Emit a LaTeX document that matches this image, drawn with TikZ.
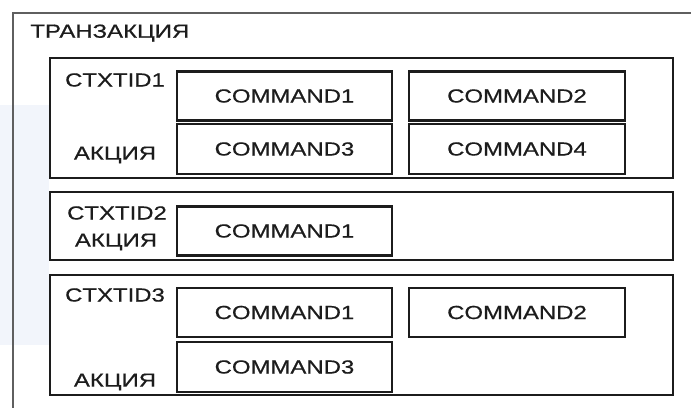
\documentclass[tikz,border=0pt]{standalone}
\usepackage{fontspec}
\setmainfont{Liberation Sans}[FakeStretch=1.26, FakeBold=0.6]
\usepackage{xcolor}
\usepackage{tikz}
\usetikzlibrary{positioning}
\definecolor{inkdark}{RGB}{28, 28, 28}
\definecolor{framegray}{RGB}{95, 95, 95}
\definecolor{scantint}{RGB}{242, 245, 251}

\begin{document}
\begin{tikzpicture}[
  x=0.5pt, y=-0.5pt,
  txbox/.style={rectangle, draw=inkdark, line width=0.8pt, minimum width=311.5pt, inner sep=0pt},
  cmdbox/.style={rectangle, draw=inkdark, line width=1.2pt, minimum width=107.5pt, minimum height=24.5pt, inner sep=0pt, font=\fontsize{9.5}{11}\selectfont, text=inkdark},
  idlabel/.style={inner sep=0pt, font=\fontsize{9.5}{11}\selectfont, text=inkdark}
]
\useasboundingbox (0,0) rectangle (691,408);

% Faint scan tint on the left margin
\fill[scantint] (0,105) rectangle (49,345);

% Outer frame (open to the right and bottom)
\draw[framegray, line width=0.7pt] (691,13) -- (13,13) -- (13,408);
\node[idlabel, anchor=west] (title) at (30,33) {ТРАНЗАКЦИЯ};

% Transaction groups
\node[txbox, minimum height=60pt] (grpone) at (361.5,118) {};
\node[txbox, minimum height=34pt] (grptwo) at (361.5,226) {};
\node[txbox, minimum height=60pt] (grpthree) at (361.5,335) {};

% Group 1
\node[idlabel] (idone) at (115,80) {CTXTID1};
\node[idlabel] (actone) at (115,155) {АКЦИЯ};
\node[cmdbox] (cmdoneA) at (284.5,96) {COMMAND1};
\node[cmdbox, minimum width=108pt] (cmdoneB) at (517,96) {COMMAND2};
\node[cmdbox, minimum height=25pt] (cmdoneC) at (284.5,149) {COMMAND3};
\node[cmdbox, minimum width=108pt, minimum height=25pt] (cmdoneD) at (517,149) {COMMAND4};

% Group 2
\node[idlabel] (idtwo) at (117,213) {CTXTID2};
\node[idlabel] (acttwo) at (116,242) {АКЦИЯ};
\node[cmdbox] (cmdtwoA) at (284.5,231) {COMMAND1};

% Group 3
\node[idlabel] (idthree) at (115,295) {CTXTID3};
\node[idlabel] (actthree) at (115,382) {АКЦИЯ};
\node[cmdbox] (cmdthreeA) at (284.5,312.5) {COMMAND1};
\node[cmdbox, minimum width=108pt] (cmdthreeB) at (517,312.5) {COMMAND2};
\node[cmdbox, minimum height=25pt] (cmdthreeC) at (284.5,367) {COMMAND3};

\end{tikzpicture}
\end{document}
